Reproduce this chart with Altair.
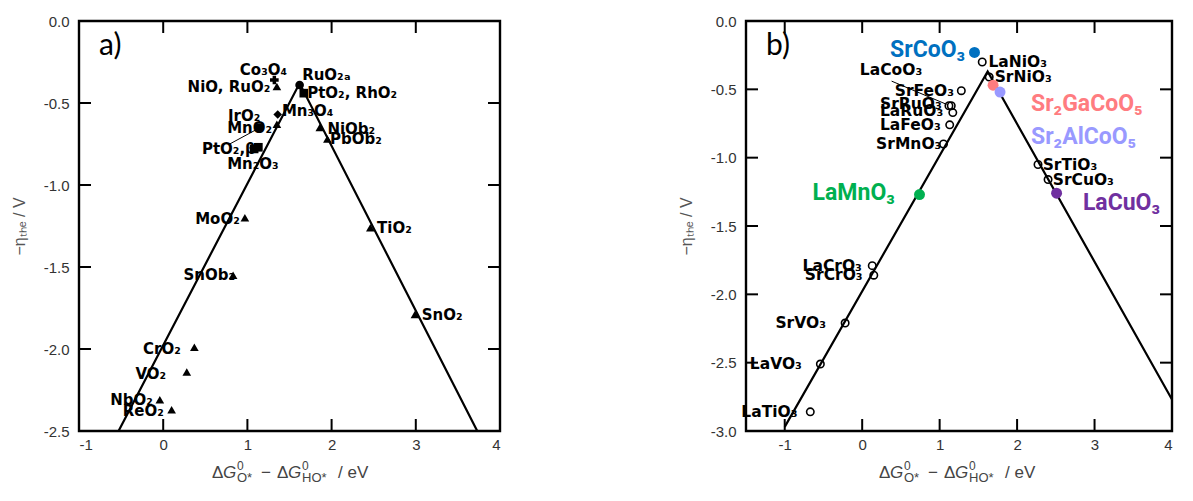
import altair as alt
import pandas as pd

# ---------------- Panel a (rutile oxides) ----------------
a_names = ["Co₃O₄", "NiO, RuO₂", "RuO₂ₐ", "PtO₂, RhO₂", "Mn₃O₄", "IrO₂", "MnO₂", "PtO₂,β", "Mn₂O₃",
           "NiOb₂", "PbOb₂", "MoO₂", "SnOb₂", "TiO₂", "SnO₂", "CrO₂", "VO₂", "NbO₂", "ReO₂"]
a_x = [1.32, 1.35, 1.62, 1.67, 1.36, 1.35, 1.14, 1.08, 1.13, 1.86, 1.95, 0.97, 0.83, 2.46, 2.99, 0.37, 0.28, -0.04, 0.10]
a_y = [-0.36, -0.40, -0.39, -0.44, -0.57, -0.63, -0.65, -0.78, -0.77, -0.65, -0.72, -1.20, -1.55, -1.26, -1.79,
       -1.99, -2.14, -2.31, -2.37]
a_shape = ["cross", "triangle-up", "circle", "square", "diamond", "triangle-up", "circle", "square", "square",
           "triangle-up", "triangle-up", "triangle-up", "triangle-up", "triangle-up", "triangle-up", "triangle-up",
           "triangle-up", "triangle-up", "triangle-up"]
a_label_x = [0.91, 0.29, 1.65, 1.71, 1.41, 0.77, 0.76, 0.46, 0.76, 1.95, 1.98, 0.38, 0.24, 2.54, 3.07, -0.24,
             -0.33, -0.63, -0.48]
a_label_y = [-0.30, -0.40, -0.33, -0.44, -0.55, -0.58, -0.65, -0.78, -0.87, -0.66, -0.72, -1.21, -1.55, -1.26,
             -1.79, -2.00, -2.15, -2.31, -2.38]
a_volcano_x = [-0.53, 1.62, 3.73]
a_volcano_y = [-2.50, -0.38, -2.50]
a_leader_x = [0.79, 1.15]
a_leader_y = [-0.75, -0.65]
a_xticks = [-1, 0, 1, 2, 3, 4]
a_yticks = [0.0, -0.5, -1.0, -1.5, -2.0, -2.5]
a_xdomain = [-1, 4]
a_ydomain = [-2.5, 0]

# ---------------- Panel b (perovskites) ----------------
b_names = ["LaNiO₃", "SrNiO₃", "LaCoO₃", "SrFeO₃", "SrRuO₃", "LaRuO₃", "LaFeO₃", "SrMnO₃", "SrTiO₃", "SrCuO₃",
           "LaCrO₃", "SrCrO₃", "SrVO₃", "LaVO₃", "LaTiO₃"]
b_x = [1.55, 1.64, 1.12, 1.28, 1.15, 1.17, 1.13, 1.05, 2.27, 2.40, 0.13, 0.15, -0.22, -0.54, -0.67]
b_y = [-0.30, -0.41, -0.62, -0.51, -0.62, -0.67, -0.76, -0.90, -1.05, -1.16, -1.79, -1.86, -2.21, -2.51, -2.86]
b_label_x = [1.63, 1.71, -0.03, 0.42, 0.23, 0.23, 0.23, 0.18, 2.33, 2.46, -0.77, -0.74, -1.12, -1.45, -1.56]
b_label_y = [-0.30, -0.41, -0.36, -0.51, -0.61, -0.66, -0.76, -0.90, -1.05, -1.16, -1.79, -1.86, -2.21, -2.51,
             -2.86]
c_names = ["SrCoO₃", "LaMnO₃", "Sr₂GaCoO₅", "Sr₂AlCoO₅", "LaCuO₃"]
c_x = [1.45, 0.74, 1.69, 1.78, 2.51]
c_y = [-0.23, -1.27, -0.47, -0.52, -1.26]
c_label_x = [0.36, -0.64, 2.18, 2.18, 2.85]
c_label_y = [-0.21, -1.26, -0.61, -0.85, -1.33]
c_palette = ["#0070C0", "#00B050", "#FF7C80", "#9999FF", "#7030A0"]
b_volcano_x = [-1.00, 1.62, 4.00]
b_volcano_y = [-2.97, -0.37, -2.77]
b_leader_x = [0.38, 1.09]
b_leader_y = [-0.44, -0.61]
b_xticks = [-1, 0, 1, 2, 3, 4]
b_yticks = [0.0, -0.5, -1.0, -1.5, -2.0, -2.5, -3.0]
b_xdomain = [-1.5, 4]
b_ydomain = [-3.0, 0]

AXFONT = "Liberation Sans"
LBL_FONT = "DejaVu Sans"
DUMMY = pd.DataFrame({"k": [0]})


def axes(xticks, yticks, xfmt, yfmt):
    xa = alt.Axis(values=xticks, ticks=False, domain=False, grid=False,
                  labelFont=AXFONT, labelFontSize=15,
                  labelColor="#333", labelPadding=6, title=None,
                  labelExpr="replace(format(datum.value, '%s'), '−', '-')" % xfmt)
    ya = alt.Axis(values=yticks, ticks=False, domain=False, grid=False,
                  labelFont=AXFONT, labelFontSize=15,
                  labelColor="#333", labelPadding=10, title="−ηₜₕₑ / V", titleFont=AXFONT, titleFontSize=16,
                  titleFontWeight="normal", titleColor="#555", titlePadding=16,
                  labelExpr="replace(format(datum.value, '%s'), '−', '-')" % yfmt)
    return xa, ya


def XY(xs, ys, xa, ya, xf="x", yf="y"):
    return dict(x=alt.X(xf + ":Q", scale=xs, axis=xa), y=alt.Y(yf + ":Q", scale=ys, axis=ya))


def frame_and_ticks(xdom, ydom, xin, yin, w, h, xs, ys, xa, ya, L=12):
    x0, x1 = xdom
    y0, y1 = ydom
    lx = L * (x1 - x0) / w
    ly = L * (y1 - y0) / h
    box = pd.DataFrame({"x": [x0], "y": [y0], "x2": [x1], "y2": [y1]})
    rect = alt.Chart(box).mark_rect(filled=False, stroke="black", strokeWidth=2.4).encode(
        **XY(xs, ys, xa, ya), x2="x2:Q", y2="y2:Q")
    rows = []
    for t in xin:
        rows += [(t, y0, t, y0 + ly), (t, y1, t, y1 - ly)]
    for t in yin:
        rows += [(x0, t, x0 + lx, t), (x1, t, x1 - lx, t)]
    tdf = pd.DataFrame(rows, columns=["x", "y", "x2", "y2"])
    ticks = alt.Chart(tdf).mark_rule(color="black", strokeWidth=2).encode(
        **XY(xs, ys, xa, ya), x2="x2:Q", y2="y2:Q")
    return [rect, ticks]


def xtitle_layers(x0, ybase):
    pieces = [
        ("Δ", 0, 0, 17, "normal"), ("G", 11, 0, 17, "italic"),
        ("0", 25, -8, 12, "normal"), ("O*", 25, 4, 13, "normal"),
        ("−", 49, 0, 17, "normal"), ("Δ", 65, 0, 17, "normal"), ("G", 76, 0, 17, "italic"),
        ("0", 90, -8, 12, "normal"), ("HO*", 90, 4, 13, "normal"),
        ("/ eV", 126, 0, 17, "normal"),
    ]
    out = []
    for txt, dx, dy, sz, st in pieces:
        out.append(alt.Chart(DUMMY).mark_text(text=txt, align="left", baseline="alphabetic", font=AXFONT,
                                              fontSize=sz, fontStyle=st, color="#444").encode(
            x=alt.value(x0 + dx), y=alt.value(ybase + dy)))
    return out


def letter(txt):
    return alt.Chart(DUMMY).mark_text(text=txt, align="left", baseline="middle", font="Lato", fontSize=30,
                                      color="black").encode(x=alt.value(20), y=alt.value(25))


def leader(xv, yv, xs, ys, xa, ya):
    df = pd.DataFrame({"x": xv, "y": yv, "o": range(len(xv))})
    return alt.Chart(df).mark_line(color="black", strokeWidth=1).encode(**XY(xs, ys, xa, ya), order="o:Q")


# ---------- build panel a ----------
WA, HA = 421, 410
xs_a = alt.Scale(domain=a_xdomain, nice=False, zero=False)
ys_a = alt.Scale(domain=a_ydomain, nice=False, zero=False)
xa, ya = axes(a_xticks, a_yticks, "d", ".1f")

va = pd.DataFrame({"x": a_volcano_x, "y": a_volcano_y, "o": range(len(a_volcano_x))})
pa_df = pd.DataFrame({"name": a_names, "x": a_x, "y": a_y, "shape": a_shape, "lx": a_label_x, "ly": a_label_y})

line_a = alt.Chart(va).mark_line(color="black", strokeWidth=2.2).encode(**XY(xs_a, ys_a, xa, ya), order="o:Q")
pts_a = alt.Chart(pa_df).mark_point(filled=True, color="black", opacity=1, size=75).encode(
    **XY(xs_a, ys_a, xa, ya), shape=alt.Shape("shape:N", scale=None))
lbl_a = alt.Chart(pa_df).mark_text(align="left", baseline="middle", font=LBL_FONT, fontWeight="bold",
                                   fontSize=15, color="black").encode(
    **XY(xs_a, ys_a, xa, ya, "lx", "ly"), text="name:N")

panel_a = alt.layer(
    line_a, leader(a_leader_x, a_leader_y, xs_a, ys_a, xa, ya), pts_a, lbl_a, letter("a)"),
    *xtitle_layers(133, HA + 47),
    *frame_and_ticks(a_xdomain, a_ydomain, [0, 1, 2, 3], [-0.5, -1.0, -1.5, -2.0], WA, HA, xs_a, ys_a, xa, ya),
).properties(width=WA, height=HA)

# ---------- build panel b ----------
WB, HB = 426, 410
xs_b = alt.Scale(domain=b_xdomain, nice=False, zero=False)
ys_b = alt.Scale(domain=b_ydomain, nice=False, zero=False)
xb, yb = axes(b_xticks, b_yticks, "d", ".1f")

vb = pd.DataFrame({"x": b_volcano_x, "y": b_volcano_y, "o": range(len(b_volcano_x))})
pb_df = pd.DataFrame({"name": b_names, "x": b_x, "y": b_y, "lx": b_label_x, "ly": b_label_y})
cb_df = pd.DataFrame({"name": c_names, "x": c_x, "y": c_y, "lx": c_label_x, "ly": c_label_y})
cscale = alt.Scale(domain=c_names, range=c_palette)

line_b = alt.Chart(vb).mark_line(color="black", strokeWidth=2.2).encode(**XY(xs_b, ys_b, xb, yb), order="o:Q")
pts_b = alt.Chart(pb_df).mark_point(filled=False, color="black", opacity=1, size=55, strokeWidth=1.6).encode(
    **XY(xs_b, ys_b, xb, yb))
lbl_b = alt.Chart(pb_df).mark_text(align="left", baseline="middle", font=LBL_FONT, fontWeight="bold",
                                   fontSize=15.5, color="black").encode(
    **XY(xs_b, ys_b, xb, yb, "lx", "ly"), text="name:N")
cpts_b = alt.Chart(cb_df).mark_point(filled=True, opacity=1, size=120).encode(
    **XY(xs_b, ys_b, xb, yb), color=alt.Color("name:N", scale=cscale, legend=None))
clbl_b = alt.Chart(cb_df).mark_text(align="left", baseline="middle", font="Roboto", fontWeight="bold",
                                    fontSize=23).encode(
    **XY(xs_b, ys_b, xb, yb, "lx", "ly"), text="name:N",
    color=alt.Color("name:N", scale=cscale, legend=None))

panel_b = alt.layer(
    line_b, leader(b_leader_x, b_leader_y, xs_b, ys_b, xb, yb), pts_b, lbl_b, cpts_b, clbl_b, letter("b)"),
    *xtitle_layers(133, HB + 47),
    *frame_and_ticks(b_xdomain, b_ydomain, [-1, 0, 1, 2, 3], [-0.5, -1.0, -1.5, -2.0, -2.5], WB, HB,
                     xs_b, ys_b, xb, yb),
).properties(width=WB, height=HB)

chart = alt.hconcat(panel_a, panel_b, spacing=176).properties(
    padding={"left": 3, "top": 6, "right": 0, "bottom": 0}
).configure_view(stroke=None).resolve_scale(color="independent")

chart.save("out.html", embed_options={"renderer": "svg", "actions": False})
